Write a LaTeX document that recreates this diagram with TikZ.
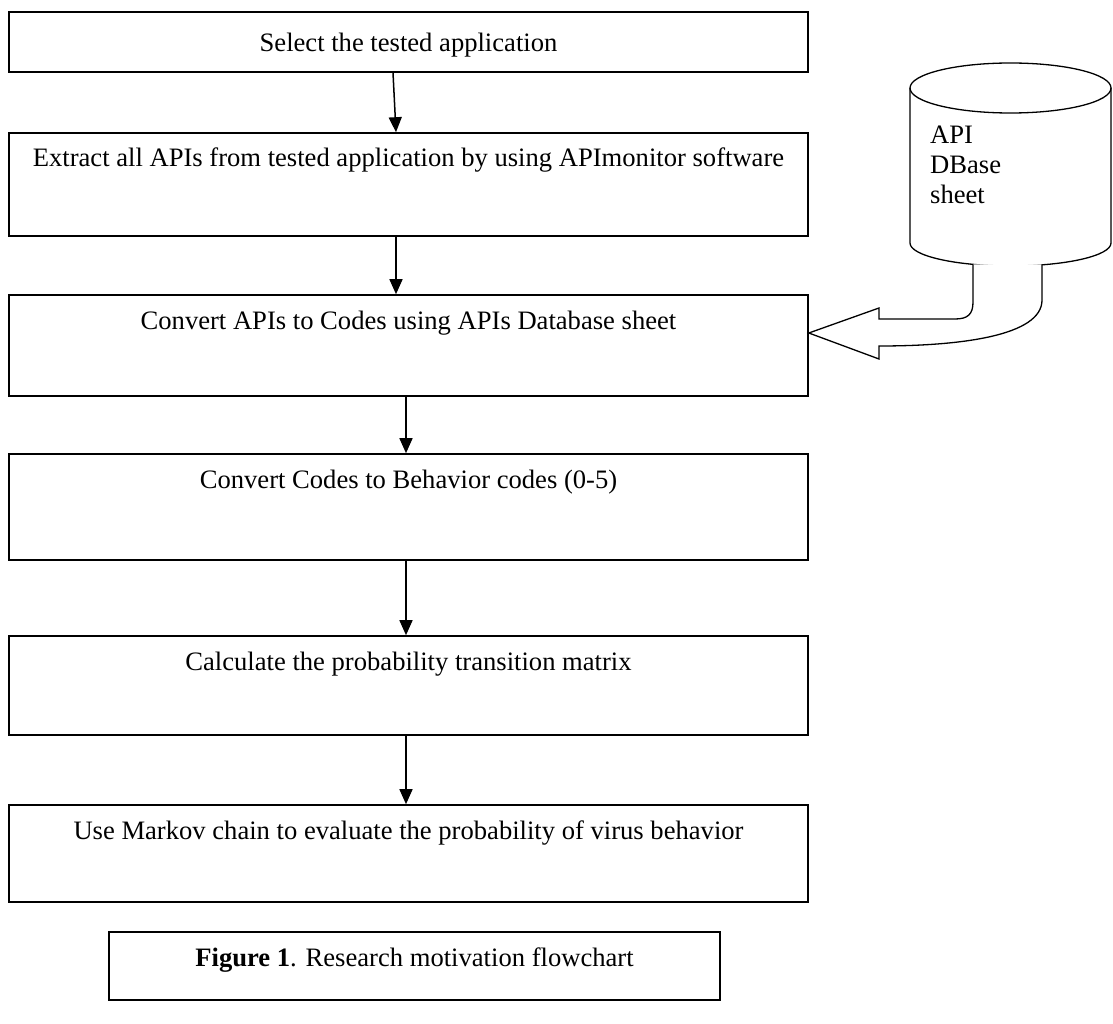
\documentclass[tikz,border=0pt]{standalone}
\usepackage{fontspec}
\setmainfont{Liberation Serif}
\usetikzlibrary{arrows.meta}
\begin{document}
\begin{tikzpicture}[x=1pt,y=-1pt,
  box/.style={draw=black, line width=1.6pt, rectangle, inner sep=0pt},
  lbl/.style={font=\fontsize{26.6}{30}\selectfont, inner sep=0pt, anchor=base},
  arr/.style={draw=black, line width=1.5pt, -{Triangle[length=15pt,width=13pt]}},
  thin/.style={draw=black, line width=1.3pt}
]
\useasboundingbox (0,0) rectangle (1113,1024);
% boxes
\node[box, minimum width=799pt, minimum height=60pt]  (b1) at (408.5,42) {};
\node[box, minimum width=799pt, minimum height=103pt] (b2) at (408.5,184.5) {};
\node[box, minimum width=799pt, minimum height=101pt] (b3) at (408.5,345.5) {};
\node[box, minimum width=799pt, minimum height=106pt] (b4) at (408.5,507) {};
\node[box, minimum width=799pt, minimum height=99pt]  (b5) at (408.5,685.5) {};
\node[box, minimum width=799pt, minimum height=97pt]  (b6) at (408.5,853.5) {};
\node[box, minimum width=611pt, minimum height=68pt]  (cap) at (414.5,966) {};
% texts
\node[lbl] (t1) at (408.5,52) {Select the tested application};
\node[lbl] (t2) at (408.5,167) {Extract all APIs from tested application by using APImonitor software};
\node[lbl] (t3) at (408.5,329) {Convert APIs to Codes using APIs Database sheet};
\node[lbl] (t4) at (408.5,488) {Convert Codes to Behavior codes (0-5)};
\node[lbl] (t5) at (408.5,670) {Calculate the probability transition matrix};
\node[lbl] (t6) at (408.5,839) {Use Markov chain to evaluate the probability of virus behavior};
\node[lbl] (t7) at (414.5,966) {\textbf{Figure 1}. Research motivation flowchart};
% arrows
\draw[arr] ([xshift=-15.5pt]b1.south) -- ([xshift=-12.5pt]b2.north);
\draw[arr] ([xshift=-12.5pt]b2.south) -- ([xshift=-12.5pt]b3.north);
\draw[arr] ([xshift=-2.5pt]b3.south) -- ([xshift=-2.5pt]b4.north);
\draw[arr] ([xshift=-2.5pt]b4.south) -- ([xshift=-2.5pt]b5.north);
\draw[arr] ([xshift=-2.5pt]b5.south) -- ([xshift=-2.5pt]b6.north);
% database cylinder
\draw[thin, fill=white] (910,88) -- (910,243) arc[start angle=180, end angle=0, x radius=100.5, y radius=23] -- (1111,88);
\draw[thin] (1010.5,88) ellipse[x radius=100.5, y radius=25];
\node[lbl, anchor=base west] (db1) at (930,144) {API};
\node[lbl, anchor=base west] (db2) at (930,174) {DBase};
\node[lbl, anchor=base west] (db3) at (930,204) {sheet};
% block arrow from cylinder to box 3
\coordinate (tip) at (b3.east |- 0,333);
\fill[white] (tip) -- (879,308) -- (879,319) -- (955,319)
  .. controls (968,319) and (973,314) .. (973,302) -- (973,264.5)
  -- (1042,264.5) -- (1042,300)
  .. controls (1042,336) and (960,346) .. (879,346) -- (879,359) -- cycle;
\draw[thin, line join=miter] (973,264.3) -- (973,302)
  .. controls (973,314) and (968,319) .. (955,319) -- (879,319) -- (879,308)
  -- (tip) -- (879,359) -- (879,346)
  .. controls (960,346) and (1042,336) .. (1042,300) -- (1042,264.3);
\end{tikzpicture}
\end{document}
